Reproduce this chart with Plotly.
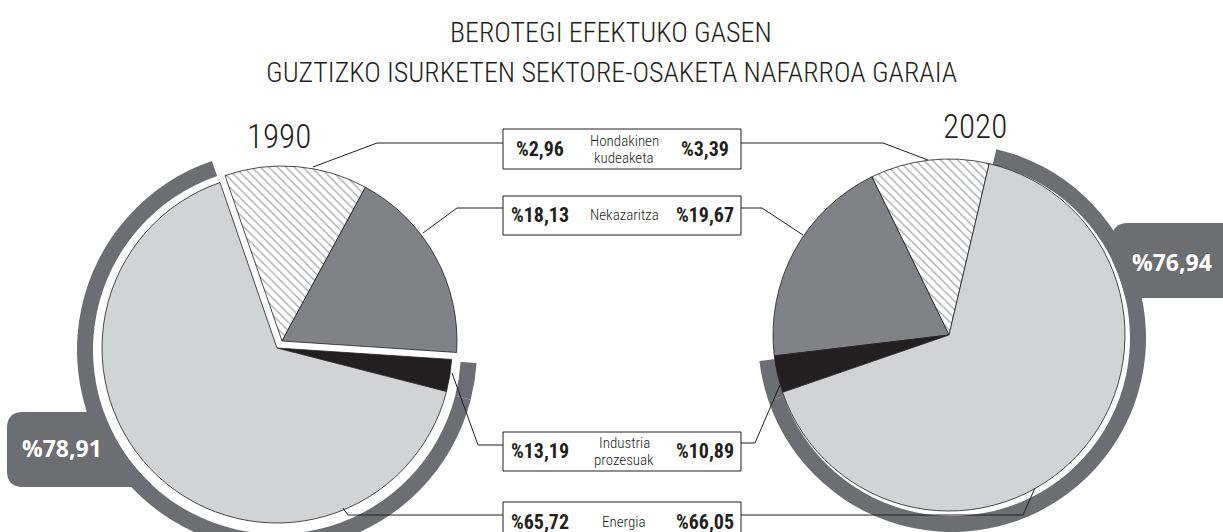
import plotly.graph_objects as go

# canvas size in pixels (taller than the window so the 1990 ring can run off the bottom)
W, H = 1223, 556

sectors = ["Industria prozesuak", "Nekazaritza", "Hondakinen kudeaketa", "Energia"]
values_1990 = [13.19, 18.13, 2.96, 65.72]
values_2020 = [10.89, 19.67, 3.39, 66.05]
years = ["1990", "2020"]

# order of the label boxes, top to bottom
box_order = ["Hondakinen kudeaketa", "Nekazaritza", "Industria prozesuak", "Energia"]
box_names = {
    "Hondakinen kudeaketa": ["Hondakinen", "kudeaketa"],
    "Nekazaritza": ["Nekazaritza"],
    "Industria prozesuak": ["Industria", "prozesuak"],
    "Energia": ["Energia"],
}

INK = "#231f20"
LIGHT = "#d1d3d4"
DARK = "#808285"
RING = "#6d6e71"
NONE = "rgba(0,0,0,0)"

COND = "Roboto Condensed, Liberation Sans Narrow, DejaVu Sans Condensed, Roboto, sans-serif"
BOLD = "Open Sans, Roboto, sans-serif"

# fill of each slice as drawn in the picture
fills = {"Industria prozesuak": "white", "Nekazaritza": DARK,
         "Hondakinen kudeaketa": INK, "Energia": LIGHT}
ring_on = {"Hondakinen kudeaketa", "Energia"}


def fx(x):
    return x / W


def fy(y):
    return 1 - y / H


def dom(cx, cy, r):
    return dict(x=[fx(cx - r), fx(cx + r)], y=[fy(cy + r), fy(cy - r)])


def pct(v):
    return "%" + f"{v:.2f}".replace(".", ",")


def pie(values, cx, cy, r, show, rotation, direction):
    colors = [fills[s] if s in show else NONE for s in sectors]
    widths = [0.8 if s in show else 0 for s in sectors]
    shapes = ["\\" if (s in show and fills[s] == "white") else "" for s in sectors]
    return go.Pie(
        labels=sectors, values=values, sort=False, direction=direction, rotation=rotation,
        domain=dom(cx, cy, r), textinfo="none", showlegend=False, hoverinfo="label+value",
        marker=dict(colors=colors, line=dict(color=INK, width=widths),
                    pattern=dict(shape=shapes, bgcolor="white", fgcolor="#a7a9ac",
                                 size=6, solidity=0.22)),
    )


def ring(values, cx, cy, r_out, r_in, rotation, direction):
    colors = [RING if s in ring_on else NONE for s in sectors]
    return go.Pie(
        labels=sectors, values=values, sort=False, direction=direction, rotation=rotation,
        domain=dom(cx, cy, r_out), hole=r_in / r_out, textinfo="none", showlegend=False,
        hoverinfo="skip", marker=dict(colors=colors, line=dict(width=0)),
    )


def rounded(x0, y0, x1, y1, rad):
    p = [
        f"M{fx(x0 + rad)},{fy(y0)}", f"L{fx(x1 - rad)},{fy(y0)}",
        f"Q{fx(x1)},{fy(y0)} {fx(x1)},{fy(y0 + rad)}", f"L{fx(x1)},{fy(y1 - rad)}",
        f"Q{fx(x1)},{fy(y1)} {fx(x1 - rad)},{fy(y1)}", f"L{fx(x0 + rad)},{fy(y1)}",
        f"Q{fx(x0)},{fy(y1)} {fx(x0)},{fy(y1 - rad)}", f"L{fx(x0)},{fy(y0 + rad)}",
        f"Q{fx(x0)},{fy(y0)} {fx(x0 + rad)},{fy(y0)}", "Z",
    ]
    return dict(type="path", path=" ".join(p), xref="paper", yref="paper",
                fillcolor=RING, line=dict(width=0), layer="below")


def circle(cx, cy, r):
    return dict(type="circle", xref="paper", yref="paper",
                x0=fx(cx - r), x1=fx(cx + r), y0=fy(cy + r), y1=fy(cy - r),
                fillcolor="white", line=dict(width=0), layer="below")


def polyline(pts):
    d = "M" + " L".join(f"{fx(x)},{fy(y)}" for x, y in pts)
    return dict(type="path", path=d, xref="paper", yref="paper",
                line=dict(color=INK, width=1), layer="above")


def text(x, y, s, size, family, color=INK, weight=None):
    return dict(x=fx(x), y=fy(y), xref="paper", yref="paper", text=s, showarrow=False,
                xanchor="center", yanchor="middle",
                font=dict(size=size, family=family, color=color, weight=weight))


fig = go.Figure()

# rings behind the pies (energia + hondakinen part)
fig.add_trace(ring(values_1990, 277, 350, 200, 184, -19, "clockwise"))
fig.add_trace(ring(values_2020, 952, 338, 194, 178, -26, "counterclockwise"))

# 1990: upper part and the slightly pulled-out lower part
fig.add_trace(pie(values_1990, 282, 341, 175, {"Industria prozesuak", "Nekazaritza"}, -19, "clockwise"))
fig.add_trace(pie(values_1990, 277, 348, 175, {"Hondakinen kudeaketa", "Energia"}, -19, "clockwise"))
# 2020
fig.add_trace(pie(values_2020, 949, 335, 176, set(sectors), -26, "counterclockwise"))

shapes = [
    rounded(7, 412, 160, 487, 16),
    rounded(1112, 223, 1250, 298, 16),
    circle(277, 350, 184),
    circle(952, 338, 178),
]

# label boxes in the middle
box_rows = {"Hondakinen kudeaketa": (129, 169), "Nekazaritza": (196, 235),
            "Industria prozesuak": (432, 471), "Energia": (502, 541)}
annotations = []
for s in box_order:
    y0, y1 = box_rows[s]
    yc = (y0 + y1) / 2
    shapes.append(dict(type="rect", xref="paper", yref="paper", x0=fx(503), x1=fx(741),
                       y0=fy(y1), y1=fy(y0), fillcolor="white",
                       line=dict(color=INK, width=1), layer="above"))
    i = sectors.index(s)
    annotations.append(text(540, yc, pct(values_1990[i]), 20, COND, weight="bold"))
    annotations.append(text(705, yc, pct(values_2020[i]), 20, COND, weight="bold"))
    lines = box_names[s]
    if len(lines) == 1:
        annotations.append(text(624, yc, lines[0], 15, COND, weight=300))
    else:
        annotations.append(text(624, yc - 8.5, lines[0], 15, COND, weight=300))
        annotations.append(text(624, yc + 8.5, lines[1], 15, COND, weight=300))

# leader lines
leaders = [
    [(503, 143), (377, 143), (313, 167)],
    [(741, 143), (883, 143), (928, 160)],
    [(503, 208), (457, 208), (423, 233)],
    [(741, 208), (762, 208), (803, 235)],
    [(503, 445), (478, 445), (452, 373)],
    [(741, 443), (755, 443), (780, 385)],
    [(503, 515), (348, 515), (343, 508)],
    [(741, 515), (1023, 515), (1035, 488)],
]
for pts in leaders:
    shapes.append(polyline(pts))

# ring totals (energia + industria)
total_1990 = values_1990[sectors.index("Energia")] + values_1990[sectors.index("Industria prozesuak")]
total_2020 = values_2020[sectors.index("Energia")] + values_2020[sectors.index("Industria prozesuak")]
annotations.append(text(62, 448, pct(total_1990), 23, BOLD, color="white", weight="bold"))
annotations.append(text(1172, 262, pct(total_2020), 23, BOLD, color="white", weight="bold"))

annotations.append(text(611, 33, "BEROTEGI EFEKTUKO GASEN", 28, COND, weight=300))
annotations.append(text(611, 73, "GUZTIZKO ISURKETEN SEKTORE-OSAKETA NAFARROA GARAIA", 28, COND, weight=300))
annotations.append(text(279, 136, years[0], 33, COND, weight=300))
annotations.append(text(975, 126, years[1], 33, COND, weight=300))

fig.update_layout(
    width=W, height=H,
    margin=dict(l=0, r=0, t=0, b=0),
    paper_bgcolor="white", plot_bgcolor="white",
    shapes=shapes, annotations=annotations,
)

fig.write_html("out.html", config={"displayModeBar": False},
               post_script="document.body.style.margin='0';document.body.style.overflow='hidden';")
